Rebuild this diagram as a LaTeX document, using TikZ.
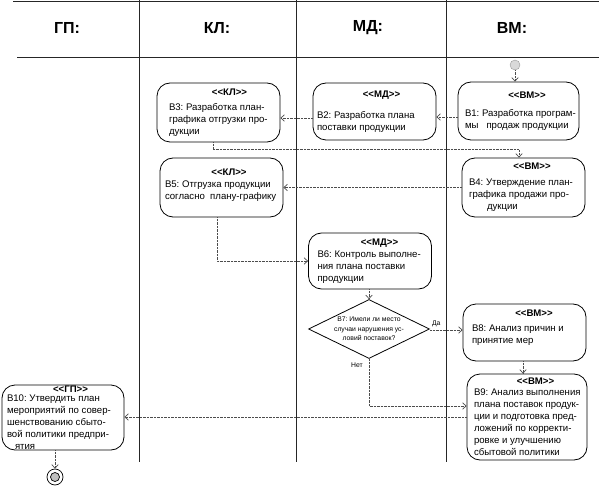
\documentclass[tikz,border=0pt]{standalone}
\usepackage{fontspec}
\setmainfont{Liberation Sans}
\usetikzlibrary{shapes.geometric,arrows.meta}
\frenchspacing
\newcommand\st[1]{\textbf{<\kern0pt<#1>\kern0pt>}}
\newcommand\stl[1]{\hfill\st{#1}\hfill\null\par}
\newcommand\actbox[3]{\parbox{#1}{\parindent=0pt\leftskip=#2\relax
  \rightskip=-10pt plus 1fil\relax\parfillskip=0pt plus 1fil\relax #3}}
\tikzset{
  lane/.style={line width=0.9pt, draw=black!85},
  head/.style={font=\fontsize{16}{18}\selectfont\bfseries},
  act/.style 2 args={draw, rounded corners=13pt, line width=0.8pt,
    minimum width=#1, minimum height=#2, inner sep=0pt,
    font=\fontsize{9.6}{12}\selectfont},
  decision/.style={diamond, draw, line width=0.8pt, aspect=2.1,
    minimum width=121pt, minimum height=59pt, inner xsep=-10pt, inner ysep=-6pt,
    align=center, font=\fontsize{6.8}{9.6}\selectfont},
  conn/.style={draw=black!70, line width=0.6pt, dash pattern=on 0.7pt off 0.7pt,
    -{Straight Barb[length=3.5pt,width=6.5pt,line width=0.7pt]}},
  lbl/.style={font=\fontsize{6.8}{8}\selectfont, inner sep=1pt},
}
\begin{document}
\begin{tikzpicture}[x=1pt,y=-1pt]
\useasboundingbox (0,0) rectangle (599,486);
% frame
\draw[lane] (13,1) -- (599,1);
\draw[lane] (17,57) -- (599,57);
\draw[lane] (139,0) -- (139,462);
\draw[lane] (296,0) -- (296,462);
\draw[lane] (446,0) -- (446,462);
% headers
\node[head] (hGP) at (67,28) {ГП:};
\node[head] (hKL) at (217,28) {КЛ:};
\node[head] (hMD) at (368,28) {МД:};
\node[head] (hVM) at (512,28) {ВМ:};
% start
\node[circle, draw=black!40, fill=black!15, minimum size=10pt, inner sep=0pt] (start) at (515,65) {};
% activities
\node[act={121pt}{58pt}] (B1) at (518.5,111) {\actbox{121pt}{7pt}{\stl{ВМ}\vspace{6pt}
  В1: Разработка програм-\par мы\ \ \ продаж продукции}};
\node[act={123pt}{57pt}] (B2) at (374.5,111.5) {\actbox{123pt}{4pt}{\stl{МД}\vspace{9pt}
  В2: Разработка плана\par поставки продукции}};
\node[act={123pt}{59pt}] (B3) at (218.5,112.5) {\actbox{123pt}{12pt}{\stl{КЛ}\vspace{3pt}
  В3: Разработка план-\par графика отгрузки про-\par дукции}};
\node[act={123pt}{59pt}] (B4) at (523.5,187.5) {\actbox{123pt}{7pt}{\stl{ВМ}\vspace{4pt}
  В4: Утверждение план-\par графика продажи про-\par\hspace*{18pt}дукции}};
\node[act={123pt}{59pt}] (B5) at (221.5,187.5) {\actbox{123pt}{5pt}{\stl{КЛ}
  В5: Отгрузка продукции\par согласно\ \ плану-графику\par\vspace{-6pt}\null}};
\node[act={123pt}{56pt}] (B6) at (370,261) {\actbox{123pt}{9pt}{\stl{МД}
  В6: Контроль выполне-\par ния плана поставки\par продукции}};
\node[decision] (B7) at (369,329) {В7: Имели ли место\\случаи нарушения ус-\\ловий поставок?};
\node[act={123pt}{57pt}] (B8) at (524.5,332.5) {\actbox{123pt}{9pt}{\stl{ВМ}\vspace{3pt}
  В8: Анализ причин и\par принятие мер\par\null}};
\node[act={120pt}{86pt}] (B9) at (527,417) {\actbox{120pt}{7pt}{\stl{ВМ}\vspace{-1pt}
  В9: Анализ выполнения\par плана поставок продук-\par ции и подготовка пред-\par
  ложений по корректи-\par ровке и улучшению\par сбытовой политики}};
\node[act={122pt}{65pt}] (B10) at (63,417.5) {\actbox{122pt}{5pt}{\stl{ГП}\vspace{-3pt}
  В10: Утвердить план\par мероприятий по совер-\par шенствованию сбыто-\par
  вой политики предпри-\par\hspace*{8pt}ятия}};
% end
\node[circle, draw, line width=0.7pt, minimum size=16pt, inner sep=0pt] (end) at (55,477) {};
\draw[line width=0.7pt, fill=black!25] (end.center) circle (4.5pt);
% connectors
\draw[conn] (start.south) -- (start.south |- B1.north);
\draw[conn] ([yshift=-6pt]B1.west) -- ([yshift=-5.5pt]B2.east);
\draw[conn] ([yshift=-6.5pt]B2.west) -- ([yshift=-5.5pt]B3.east);
\draw[conn] ([xshift=-5.5pt]B3.south) |- ([xshift=-4.5pt,yshift=8pt]B4.north) -- ([xshift=-4.5pt]B4.north);
\draw[conn] (B4.west) -- (B5.east);
\draw[conn] ([xshift=-4.5pt]B5.south) |- (B6.west);
\draw[conn] (B7.north |- B6.south) -- (B7.north);
\draw[conn] ([yshift=-1pt]B7.east) -- ([yshift=-1pt]B7.east -| B8.west);
\node[lbl, anchor=south west] (da) at ([xshift=1pt,yshift=1pt]B7.east) {Да};
\draw[conn] ([xshift=-1.5pt]B8.south) -- ([xshift=-1.5pt]B8.south |- B9.north);
\draw[conn] (B7.south) |- ([yshift=11pt]B9.west);
\node[lbl, anchor=north east] (net) at ([xshift=-5pt,yshift=-3pt]B7.south) {Нет};
\draw[conn] (B9.west) -- (B9.west -| B10.east);
\draw[conn] ([xshift=-8pt]B10.south) -- (end.north);
\end{tikzpicture}
\end{document}
